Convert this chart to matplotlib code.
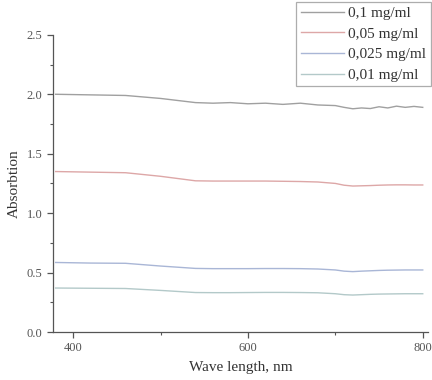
import matplotlib.pyplot as plt
from matplotlib.ticker import MultipleLocator, FixedLocator

plt.rcParams['font.family'] = ['Liberation Serif', 'DejaVu Serif']

# wavelength grid (nm)
wave = [380, 420, 460, 500, 540, 560, 580, 600, 620, 640, 660, 680, 700, 710, 720, 730, 740, 750, 760, 770, 780, 790, 800]

abs_01 = [2.00, 1.995, 1.99, 1.965, 1.93, 1.925, 1.93, 1.92, 1.925, 1.915, 1.925, 1.91, 1.905, 1.89, 1.878, 1.885, 1.88, 1.895, 1.885, 1.90, 1.89, 1.898, 1.89]
abs_005 = [1.35, 1.345, 1.34, 1.31, 1.272, 1.27, 1.27, 1.27, 1.27, 1.268, 1.266, 1.262, 1.25, 1.235, 1.228, 1.23, 1.232, 1.235, 1.237, 1.238, 1.238, 1.237, 1.237]
abs_0025 = [0.585, 0.58, 0.578, 0.555, 0.535, 0.533, 0.533, 0.533, 0.534, 0.534, 0.533, 0.53, 0.522, 0.512, 0.508, 0.512, 0.515, 0.518, 0.52, 0.521, 0.522, 0.522, 0.522]
abs_001 = [0.37, 0.368, 0.366, 0.35, 0.332, 0.331, 0.331, 0.332, 0.333, 0.333, 0.332, 0.33, 0.322, 0.314, 0.311, 0.314, 0.317, 0.319, 0.32, 0.321, 0.322, 0.322, 0.322]

labels = ['0,1 mg/ml', '0,05 mg/ml', '0,025 mg/ml', '0,01 mg/ml']
colors = ['#a0a0a0', '#dda7a7', '#a9b6d6', '#b3c9c9']

fig = plt.figure(figsize=(4.32, 3.8), dpi=100)
ax = fig.add_axes([0.1227, 0.1263, 0.868, 0.782])

for vals, lab, c in zip([abs_01, abs_005, abs_0025, abs_001], labels, colors):
    ax.plot(wave, vals, color=c, lw=1.0, label=lab)

ax.set_xlim(377, 806)
ax.set_ylim(0, 2.5)
ax.xaxis.set_major_locator(FixedLocator([400, 600, 800]))
ax.xaxis.set_minor_locator(FixedLocator([500, 700]))
ax.yaxis.set_major_locator(MultipleLocator(0.5))
ax.yaxis.set_minor_locator(MultipleLocator(0.25))
ax.yaxis.set_major_formatter(plt.FormatStrFormatter('%.1f'))

ax.spines['top'].set_visible(False)
ax.spines['right'].set_visible(False)
for s in ['left', 'bottom']:
    ax.spines[s].set_color('#555555')
    ax.spines[s].set_linewidth(0.9)
ax.tick_params(which='major', direction='out', length=4, width=0.9, colors='#555555', labelsize=9, labelcolor='#555555')
ax.tick_params(which='minor', direction='out', length=2.5, width=0.8, colors='#555555')

ax.set_xlabel('Wave length, nm', fontsize=11, color='#333333', labelpad=5)
ax.set_ylabel('Absorbtion', fontsize=11, color='#333333')

leg = fig.legend(loc='upper right', bbox_to_anchor=(0.997, 0.995), fontsize=11,
                 frameon=True, fancybox=False, edgecolor='#999999', handlelength=2.8,
                 handletextpad=0.3, borderpad=0.3, labelspacing=0.45, borderaxespad=0)
leg.get_frame().set_linewidth(0.9)
for t in leg.get_texts():
    t.set_color('#333333')

fig.savefig('out.png', dpi=100)
